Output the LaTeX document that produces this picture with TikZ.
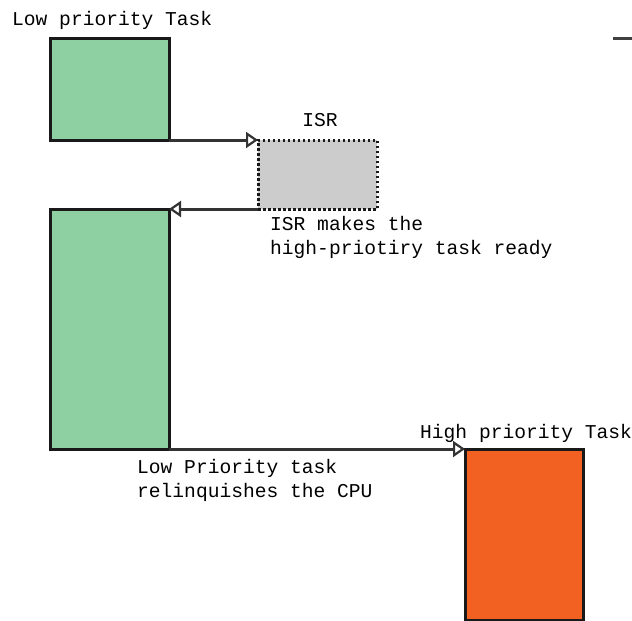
\documentclass[tikz,border=0pt]{standalone}
\usepackage{fontspec}
\setmonofont{Liberation Mono}
\usetikzlibrary{arrows.meta}
\definecolor{taskgreen}{HTML}{8FD0A3}
\definecolor{taskorange}{HTML}{F26122}
\definecolor{isrgray}{HTML}{CCCCCC}
\tikzset{
  taskbox/.style={draw=black!90, line width=3pt, anchor=north west, inner sep=0pt, outer sep=0pt},
  isrbox/.style={draw=black!90, line width=3pt, dash pattern=on 2.5pt off 2.5pt, fill=isrgray, anchor=north west, inner sep=0pt, outer sep=0pt},
  flow/.style={draw=black!80, line width=3pt, -{Triangle[open, length=12pt, width=16pt, line width=2.2pt]}},
  lbl/.style={font=\ttfamily\fontsize{19.6}{24}\selectfont, inner sep=0pt, align=left, text=black}
}
\begin{document}
\begin{tikzpicture}[x=1pt, y=-1pt]
\useasboundingbox[fill=white] (0,0) rectangle (632,621);
% task boxes
\node[taskbox, fill=taskgreen, minimum width=119pt, minimum height=102pt] (low1) at (50,38) {};
\node[isrbox, minimum width=119pt, minimum height=69pt] (isr) at (258,140) {};
\node[taskbox, fill=taskgreen, minimum width=119pt, minimum height=240pt] (low2) at (50,209) {};
\node[taskbox, fill=taskorange, minimum width=118pt, minimum height=171pt] (high) at (465,449) {};
% labels (base anchor sits on the last line)
\node[lbl, anchor=base west] (lowlbl) at (12,25) {Low priority Task};
\node[lbl, anchor=base] (isrlbl) at (320,126) {ISR};
\node[lbl, anchor=base west] (readylbl) at (270,254) {ISR makes the\\high-priotiry task ready};
\node[lbl, anchor=base west] (highlbl) at (420,438) {High priority Task};
\node[lbl, anchor=base west] (relinqlbl) at (137,497) {Low Priority task\\relinquishes the CPU};
% transitions
\draw[flow] (low1.south east) -- (isr.north west);
\draw[flow] (isr.south west) -- (low2.north east);
\draw[flow] (low2.south east) -- (high.north west);
% stub at the right edge
\coordinate (stubA) at (613,38);
\coordinate (stubB) at (632,38);
\draw[black!75, line width=3pt] (stubA) -- (stubB);
\end{tikzpicture}
\end{document}
